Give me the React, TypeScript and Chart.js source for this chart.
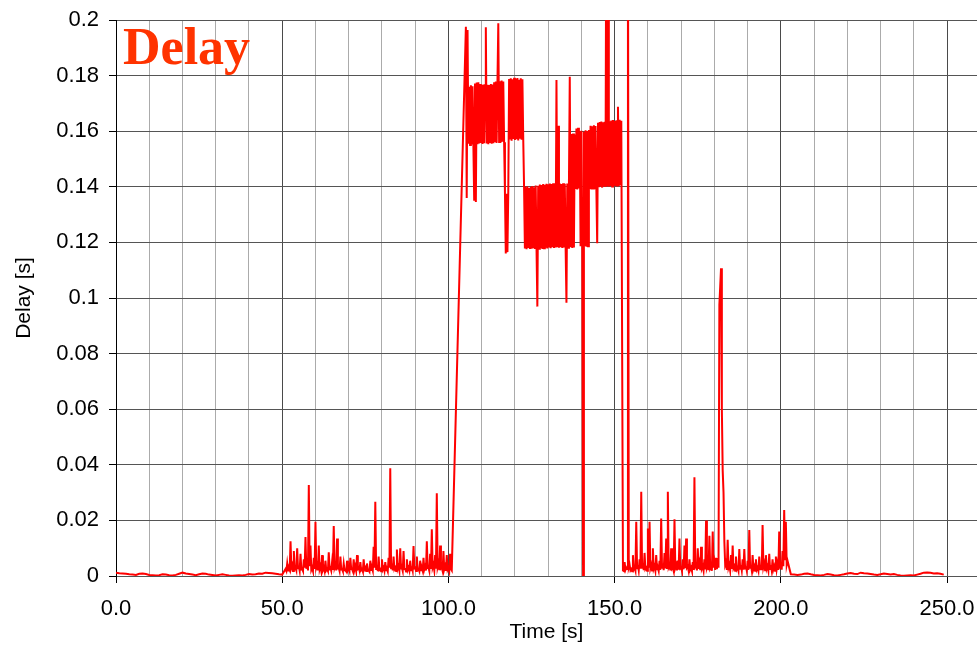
import { useEffect, useRef } from "react";
import { Chart, registerables } from "chart.js";

Chart.register(...registerables);

// Axis ticks
const xTickValues = [0, 10, 20, 30, 40, 50, 60, 70, 80, 90, 100, 110, 120, 130, 140, 150, 160, 170, 180, 190, 200, 210, 220, 230, 240, 250];
const yTickValues = [0, 0.02, 0.04, 0.06, 0.08, 0.1, 0.12, 0.14, 0.16, 0.18, 0.2];

// Idle link, 0 s .. 50 s, one sample per second
const idleStart = 0;
const idleStep = 1;
const idleDelay = [
  0.0012, 0.0010, 0.0009, 0.0008, 0.0006, 0.0005, 0.0004, 0.0008, 0.0009, 0.0007,
  0.0004, 0.0003, 0.0002, 0.0003, 0.0006, 0.0005, 0.0003, 0.0002, 0.0004, 0.0008,
  0.0012, 0.0009, 0.0007, 0.0005, 0.0003, 0.0006, 0.0009, 0.0008, 0.0005, 0.0004,
  0.0002, 0.0004, 0.0006, 0.0004, 0.0002, 0.0001, 0.0002, 0.0003, 0.0002, 0.0004,
  0.0007, 0.0005, 0.0006, 0.0009, 0.0008, 0.0012, 0.0011, 0.0010, 0.0008, 0.0006,
  0.0005,
];

// Light load, 51 s .. 101 s, every 0.25 s
const lightStart = 51;
const lightStep = 0.25;
const lightDelay = [
  0.0025, 0.0018, 0.0045, 0.0020, 0.0030, 0.0022, 0.0125, 0.0030,
  0.0040, 0.0018, 0.0090, 0.0025, 0.0030, 0.0020, 0.0100, 0.0028,
  0.0035, 0.0019, 0.0080, 0.0024, 0.0025, 0.0018, 0.0060, 0.0030,
  0.0140, 0.0026, 0.0045, 0.0020, 0.0327, 0.0035, 0.0110, 0.0022,
  0.0030, 0.0018, 0.0065, 0.0025, 0.0195, 0.0030, 0.0040, 0.0020,
  0.0110, 0.0024, 0.0035, 0.0018, 0.0075, 0.0022, 0.0030, 0.0017,
  0.0055, 0.0020, 0.0025, 0.0018, 0.0085, 0.0026, 0.0030, 0.0019,
  0.0050, 0.0022, 0.0180, 0.0030, 0.0040, 0.0020, 0.0135, 0.0028,
  0.0030, 0.0018, 0.0070, 0.0024, 0.0025, 0.0017, 0.0045, 0.0021,
  0.0020, 0.0016, 0.0055, 0.0022, 0.0030, 0.0019, 0.0065, 0.0025,
  0.0025, 0.0017, 0.0060, 0.0023, 0.0035, 0.0018, 0.0075, 0.0026,
  0.0030, 0.0019, 0.0050, 0.0021, 0.0025, 0.0016, 0.0060, 0.0024,
  0.0030, 0.0018, 0.0045, 0.0020, 0.0020, 0.0015, 0.0055, 0.0022,
  0.0030, 0.0019, 0.0105, 0.0030, 0.0267, 0.0025, 0.0040, 0.0018,
  0.0070, 0.0022, 0.0025, 0.0017, 0.0060, 0.0023, 0.0030, 0.0018,
  0.0050, 0.0021, 0.0025, 0.0016, 0.0065, 0.0030, 0.0388, 0.0028,
  0.0045, 0.0020, 0.0070, 0.0024, 0.0030, 0.0018, 0.0095, 0.0026,
  0.0035, 0.0019, 0.0100, 0.0027, 0.0030, 0.0018, 0.0090, 0.0025,
  0.0025, 0.0016, 0.0060, 0.0022, 0.0030, 0.0019, 0.0055, 0.0021,
  0.0035, 0.0020, 0.0108, 0.0028, 0.0030, 0.0018, 0.0070, 0.0023,
  0.0025, 0.0017, 0.0055, 0.0021, 0.0030, 0.0019, 0.0065, 0.0024,
  0.0035, 0.0020, 0.0125, 0.0029, 0.0030, 0.0018, 0.0080, 0.0025,
  0.0168, 0.0030, 0.0040, 0.0020, 0.0075, 0.0026, 0.0298, 0.0032,
  0.0045, 0.0021, 0.0110, 0.0027, 0.0030, 0.0018, 0.0090, 0.0024,
  0.0035, 0.0019, 0.0075, 0.0023, 0.0030, 0.0018, 0.0080, 0.0025,
  0.0020,
];

// Congested link, 105.25 s .. 152 s, every 0.25 s
const congestedStart = 105.25;
const congestedStep = 0.25;
const congestedDelay = [
  0.1976, 0.1360, 0.1964, 0.1555, 0.1760, 0.1550, 0.1765, 0.1552,
  0.1762, 0.1555, 0.1350, 0.1772, 0.1345, 0.1775, 0.1553, 0.1776,
  0.1556, 0.1770, 0.1558, 0.1766, 0.1554, 0.1768, 0.1557, 0.1765,
  0.1974, 0.1556, 0.1767, 0.1553, 0.1766, 0.1558, 0.1770, 0.1555,
  0.1768, 0.1557, 0.1776, 0.1560, 0.1779, 0.1558, 0.1777, 0.1988,
  0.1561, 0.1780, 0.1559, 0.1782, 0.1562, 0.1779, 0.1560, 0.1378,
  0.1160, 0.1375, 0.1165, 0.1380, 0.1788, 0.1570, 0.1790, 0.1566,
  0.1787, 0.1572, 0.1792, 0.1568, 0.1789, 0.1571, 0.1791, 0.1567,
  0.1785, 0.1573, 0.1790, 0.1569, 0.1787, 0.1575, 0.1400, 0.1178,
  0.1398, 0.1175, 0.1402, 0.1180, 0.1396, 0.1176, 0.1400, 0.1177,
  0.1403, 0.1179, 0.1398, 0.1176, 0.1405, 0.1178, 0.0969, 0.1404,
  0.1177, 0.1408, 0.1180, 0.1406, 0.1176, 0.1410, 0.1179, 0.1407,
  0.1181, 0.1411, 0.1178, 0.1409, 0.1182, 0.1412, 0.1179, 0.1410,
  0.1183, 0.1413, 0.1180, 0.1411, 0.1182, 0.1784, 0.1183, 0.1620,
  0.1181, 0.1412, 0.1183, 0.1410, 0.1180, 0.1413, 0.1182, 0.1411,
  0.1184, 0.0983, 0.1412, 0.1181, 0.1410, 0.1796, 0.1183, 0.1590,
  0.1180, 0.1592, 0.1182, 0.1588, 0.1392, 0.1610, 0.1390, 0.1612,
  0.1394, 0.1600, 0.1186, 0.1602, 0.1185, 0.0000, 0.1598, 0.1187,
  0.1603, 0.1184, 0.1601, 0.1186, 0.1604, 0.1392, 0.1620, 0.1390,
  0.1618, 0.1394, 0.1621, 0.1391, 0.1619, 0.1393, 0.1197, 0.1630,
  0.1398, 0.1633, 0.1400, 0.1635, 0.1397, 0.1632, 0.1401, 0.1634,
  0.1399, 0.2500, 0.1402, 0.2500, 0.1400, 0.1636, 0.1403, 0.1638,
  0.1401, 0.1640, 0.1404, 0.1637, 0.1402, 0.1639, 0.1405, 0.1688,
  0.1403, 0.1641, 0.1406, 0.1638,
];

// Recovery, 152.5 s .. 202 s, every 0.25 s
const recoveryStart = 152.5;
const recoveryStep = 0.25;
const recoveryDelay = [
  0.0020, 0.0018, 0.0050, 0.0022, 0.0030, 0.0025, 0.2500, 0.0030,
  0.0040, 0.0020, 0.0025, 0.0017, 0.0075, 0.0024, 0.0030, 0.0019,
  0.0195, 0.0028, 0.0040, 0.0020, 0.0060, 0.0026, 0.0303, 0.0030,
  0.0045, 0.0021, 0.0083, 0.0025, 0.0030, 0.0019, 0.0171, 0.0030,
  0.0195, 0.0028, 0.0040, 0.0020, 0.0100, 0.0026, 0.0035, 0.0019,
  0.0075, 0.0024, 0.0030, 0.0018, 0.0055, 0.0022, 0.0207, 0.0030,
  0.0045, 0.0021, 0.0083, 0.0027, 0.0135, 0.0029, 0.0303, 0.0032,
  0.0040, 0.0020, 0.0100, 0.0026, 0.0030, 0.0018, 0.0204, 0.0030,
  0.0040, 0.0020, 0.0055, 0.0023, 0.0135, 0.0027, 0.0030, 0.0018,
  0.0060, 0.0024, 0.0110, 0.0028, 0.0135, 0.0030, 0.0035, 0.0019,
  0.0060, 0.0023, 0.0030, 0.0018, 0.0050, 0.0022, 0.0355, 0.0034,
  0.0040, 0.0020, 0.0100, 0.0026, 0.0045, 0.0021, 0.0105, 0.0027,
  0.0035, 0.0019, 0.0060, 0.0024, 0.0200, 0.0030, 0.0040, 0.0021,
  0.0145, 0.0028, 0.0035, 0.0019, 0.0160, 0.0030, 0.0050, 0.0022,
  0.0065, 0.0025, 0.0045, 0.0030, 0.0975, 0.1040, 0.1107, 0.0600,
  0.0380, 0.0300, 0.0125, 0.0040, 0.0050, 0.0022, 0.0130, 0.0030,
  0.0040, 0.0020, 0.0075, 0.0025, 0.0110, 0.0028, 0.0035, 0.0019,
  0.0070, 0.0024, 0.0030, 0.0018, 0.0097, 0.0026, 0.0040, 0.0020,
  0.0060, 0.0023, 0.0097, 0.0027, 0.0035, 0.0019, 0.0055, 0.0022,
  0.0165, 0.0030, 0.0040, 0.0020, 0.0075, 0.0025, 0.0035, 0.0019,
  0.0060, 0.0023, 0.0030, 0.0018, 0.0070, 0.0024, 0.0040, 0.0021,
  0.0183, 0.0032, 0.0045, 0.0021, 0.0075, 0.0026, 0.0035, 0.0019,
  0.0080, 0.0025, 0.0040, 0.0020, 0.0060, 0.0024, 0.0035, 0.0019,
  0.0070, 0.0025, 0.0045, 0.0022, 0.0160, 0.0030, 0.0050, 0.0023,
  0.0090, 0.0035, 0.0237, 0.0060, 0.0195, 0.0040, 0.0055,
];

// Idle again, 203 s .. 249 s, one sample per second
const tailStart = 203;
const tailStep = 1;
const tailDelay = [
  0.0006, 0.0005, 0.0004, 0.0005, 0.0008, 0.0009, 0.0006, 0.0004, 0.0003, 0.0002,
  0.0004, 0.0007, 0.0005, 0.0003, 0.0002, 0.0004, 0.0006, 0.0009, 0.0011, 0.0008,
  0.0007, 0.0012, 0.0010, 0.0009, 0.0007, 0.0005, 0.0004, 0.0006, 0.0009, 0.0007,
  0.0005, 0.0007, 0.0004, 0.0002, 0.0001, 0.0002, 0.0003, 0.0002, 0.0005, 0.0008,
  0.0012, 0.0013, 0.0012, 0.0009, 0.0010, 0.0008, 0.0005,
];

type Pt = { x: number; y: number };

function samples(start: number, step: number, values: number[]): Pt[] {
  return values.map((v, i) => ({ x: Number((start + i * step).toFixed(3)), y: v }));
}

const delayTrace: Pt[] = [
  ...samples(idleStart, idleStep, idleDelay),
  ...samples(lightStart, lightStep, lightDelay),
  ...samples(congestedStart, congestedStep, congestedDelay),
  ...samples(recoveryStart, recoveryStep, recoveryDelay),
  ...samples(tailStart, tailStep, tailDelay),
];

const FONT = '"Liberation Sans", Arial, Helvetica, sans-serif';

// Large red caption inside the plot area
const captionPlugin = {
  id: "delayCaption",
  afterDatasetsDraw(chart: any) {
    const { ctx, chartArea } = chart;
    ctx.save();
    ctx.font = 'bold 52px "Liberation Serif", "Times New Roman", serif';
    ctx.fillStyle = "#ff3300";
    ctx.textBaseline = "alphabetic";
    ctx.textAlign = "left";
    ctx.fillText("Delay", chartArea.left + 7, chartArea.top + 44);
    ctx.restore();
  },
};

export default function App() {
  const canvasRef = useRef<HTMLCanvasElement | null>(null);

  useEffect(() => {
    const canvas = canvasRef.current;
    if (!canvas) return;
    const chart = new Chart(canvas, {
      type: "line",
      data: {
        datasets: [
          {
            data: delayTrace as any,
            borderColor: "#ff0000",
            borderWidth: 2,
            pointRadius: 0,
            tension: 0,
            fill: false,
          },
        ],
      },
      options: {
        animation: false,
        responsive: false,
        devicePixelRatio: 1,
        events: [],
        layout: { padding: { top: 20, right: 0, bottom: 0, left: 0 } },
        plugins: {
          legend: { display: false },
          tooltip: { enabled: false },
        },
        scales: {
          x: {
            type: "linear",
            min: 0,
            max: 259,
            afterBuildTicks: (scale: any) => {
              scale.ticks = xTickValues.map((v) => ({ value: v }));
            },
            afterFit: (scale: any) => {
              scale.height = 69;
              scale.paddingLeft = 0;
              scale.paddingRight = 0;
            },
            ticks: {
              autoSkip: false,
              maxRotation: 0,
              minRotation: 0,
              padding: 13,
              color: "#000",
              font: { family: FONT, size: 22 },
              callback: (v: any) => (Number(v) % 50 === 0 ? Number(v).toFixed(1) : ""),
            },
            grid: {
              color: (c: any) => (c.tick && c.tick.value % 50 === 0 ? "#4a4a4a" : "#ababab"),
              tickColor: (c: any) => (c.tick && c.tick.value % 50 === 0 ? "#000" : "rgba(0,0,0,0)"),
              tickLength: 7,
              lineWidth: 1,
            },
            border: { display: true, color: "#555", width: 1 },
            title: {
              display: true,
              text: "Time [s]",
              color: "#000",
              font: { family: FONT, size: 21 },
              padding: { top: 0, bottom: 0 },
            },
          },
          y: {
            type: "linear",
            min: 0,
            max: 0.2,
            afterBuildTicks: (scale: any) => {
              scale.ticks = yTickValues.map((v) => ({ value: v }));
            },
            afterFit: (scale: any) => {
              scale.width = 116;
              scale.paddingTop = 0;
              scale.paddingBottom = 0;
            },
            ticks: {
              autoSkip: false,
              padding: 10,
              color: "#000",
              font: { family: FONT, size: 22 },
              callback: (v: any) => String(Number(Number(v).toFixed(2))),
            },
            grid: {
              color: "#555",
              tickColor: "#000",
              tickLength: 7,
              lineWidth: 1,
            },
            border: { display: true, color: "#000", width: 1 },
            title: {
              display: true,
              text: "Delay [s]",
              color: "#000",
              font: { family: FONT, size: 21 },
              padding: { top: 12, bottom: 0 },
            },
          },
        },
      },
      plugins: [captionPlugin],
    });
    return () => chart.destroy();
  }, []);

  return (
    <div style={{ position: "fixed", left: 0, top: 0, width: 977, height: 645, background: "#fff" }}>
      <canvas ref={canvasRef} width={977} height={645} style={{ display: "block" }} />
    </div>
  );
}
